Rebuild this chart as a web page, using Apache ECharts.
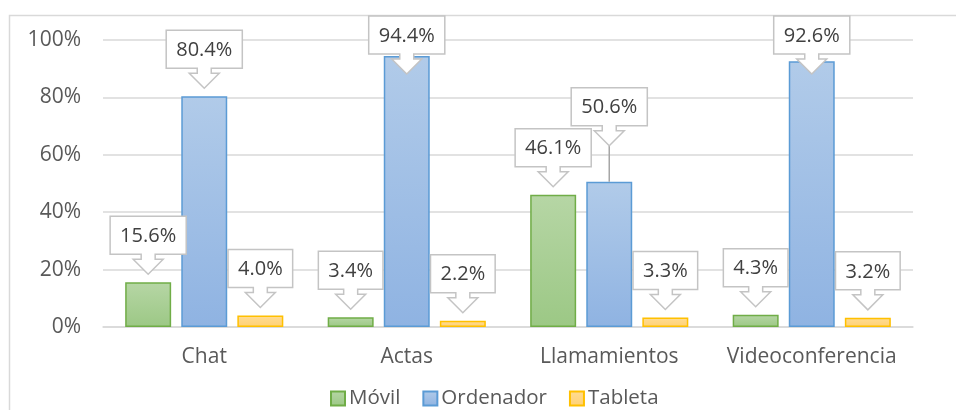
<!DOCTYPE html>
<html>
<head>
    <meta charset="utf-8">
    <title>Dispositivos</title>
    <script src="https://cdn.jsdelivr.net/npm/echarts@6/dist/echarts.min.js"></script>
    <style>
        html, body { margin: 0; padding: 0; background: #fff; }
    </style>
</head>
<body>
<div id="chartmain" style="width:956px; height:410px;"></div>
<script>
    // datos
    var categorias = ['Chat', 'Actas', 'Llamamientos', 'Videoconferencia'];
    var series = ['Móvil', 'Ordenador', 'Tableta'];
    var movil = [15.6, 3.4, 46.1, 4.3];
    var ordenador = [80.4, 94.4, 50.6, 92.6];
    var tableta = [4.0, 2.2, 3.3, 3.2];
    var ticksY = [0, 20, 40, 60, 80, 100];

    var valores = [movil, ordenador, tableta];
    var FONT = '"Open Sans", "Noto Sans", sans-serif';
    var BAR_W = 0.227, BAR_GAP = 0.22;
    var estilos = [
        {top: '#b6d6a5', bottom: '#9cc885', border: '#70ad47'},
        {top: '#b1cbe9', bottom: '#8fb3e2', border: '#5b9bd5'},
        {top: '#ffdc93', bottom: '#ffd175', border: '#ffc000'}
    ];

    var ctx = document.createElement('canvas').getContext('2d');
    ctx.font = '20px ' + FONT;
    function ancho(t) { return ctx.measureText(t).width; }
    function etiqueta(v) { return v.toFixed(1) + '%'; }

    // caja del rotulo (sin desplazamiento por choque)
    function caja(api, c, s) {
        var v = valores[s][c];
        var pt = api.coord([c, v]);
        var band = api.size([1, 0])[0];
        var bw = band * BAR_W;
        var cx = pt[0] + (s - 1) * (bw + bw * BAR_GAP);
        var w = ancho(etiqueta(v)) + 20, h = 38;
        var bottom = pt[1] - 8 - 20;
        var top = bottom - h;
        if (top < 16) { top = 16; bottom = top + h; }
        return {cx: cx, barTop: pt[1], x0: cx - w / 2, x1: cx + w / 2, top: top, bottom: bottom, h: h};
    }

    function renderCallout(params, api) {
        var c = api.value(0), s = api.value(2);
        var b = caja(api, c, s);
        var linea = null;
        if (s > 0) {
            var o = caja(api, c, s - 1);
            if (b.x0 < o.x1 && b.x1 > o.x0 && b.bottom + 20 > o.top && b.top < o.bottom) {
                b.bottom = o.top - 3;
                b.top = b.bottom - b.h;
            }
        }
        var tip = b.bottom + 20;
        if (tip < b.barTop - 9) {
            linea = {type: 'line', shape: {x1: b.cx, y1: tip, x2: b.cx, y2: b.barTop},
                style: {stroke: '#a6a6a6', lineWidth: 1.5}};
        }
        var cx = b.cx;
        var pts = [
            [b.x0, b.top], [b.x1, b.top], [b.x1, b.bottom],
            [cx + 7, b.bottom], [cx + 7, b.bottom + 5], [cx + 15, b.bottom + 5],
            [cx, tip],
            [cx - 15, b.bottom + 5], [cx - 7, b.bottom + 5], [cx - 7, b.bottom],
            [b.x0, b.bottom]
        ];
        var hijos = [];
        if (linea) hijos.push(linea);
        hijos.push({type: 'polygon', shape: {points: pts},
            style: {fill: '#fff', stroke: '#c4c4c4', lineWidth: 1.5}});
        hijos.push({type: 'text', style: {
            x: cx, y: (b.top + b.bottom) / 2 + 1, text: etiqueta(valores[s][c]),
            fill: '#404040', font: '20px ' + FONT, align: 'center', verticalAlign: 'middle'}});
        return {type: 'group', children: hijos};
    }

    var datosRotulos = [];
    valores.forEach(function (arr, s) {
        arr.forEach(function (v, c) { datosRotulos.push([c, v, s]); });
    });

    var myChart = echarts.init(document.getElementById('chartmain'));
    var option = {
        animation: false,
        textStyle: {fontFamily: FONT},
        graphic: [{
            type: 'rect', shape: {x: 9.5, y: 15.5, width: 1000, height: 500},
            style: {fill: 'none', stroke: '#d9d9d9', lineWidth: 1.5}, z: -1
        }],
        grid: {left: 103, right: 43, top: 40, bottom: 83},
        legend: {
            data: series, left: 325, top: 383, icon: 'rect',
            itemWidth: 14, itemHeight: 14, itemGap: 22,
            textStyle: {fontSize: 20.5, color: '#595959', fontFamily: FONT, padding: [0, 0, 0, -1]}
        },
        xAxis: {
            type: 'category', data: categorias,
            axisLine: {lineStyle: {color: '#d9d9d9', width: 1.5}},
            axisTick: {show: false},
            axisLabel: {fontSize: 21, color: '#595959', margin: 20, interval: 0}
        },
        yAxis: {
            type: 'value', min: 0, max: 100, interval: 20,
            axisLabel: {formatter: function (v) { return ticksY.indexOf(v) >= 0 ? v + '%' : ''; },
                fontSize: 21, color: '#595959', margin: 22},
            splitLine: {lineStyle: {color: '#d9d9d9', width: 1.5}}
        },
        series: series.map(function (nombre, s) {
            var e = estilos[s];
            return {
                name: nombre, type: 'bar', data: valores[s],
                barWidth: (BAR_W * 100) + '%', barGap: (BAR_GAP * 100) + '%',
                itemStyle: {
                    color: new echarts.graphic.LinearGradient(0, 0, 0, 1, [
                        {offset: 0, color: e.top}, {offset: 1, color: e.bottom}]),
                    borderColor: e.border, borderWidth: 1.5
                }
            };
        }).concat([{
            type: 'custom', renderItem: renderCallout, data: datosRotulos,
            encode: {x: 0, y: 1}, clip: false, z: 10, silent: true
        }])
    };
    myChart.setOption(option);
</script>
</body>
</html>
